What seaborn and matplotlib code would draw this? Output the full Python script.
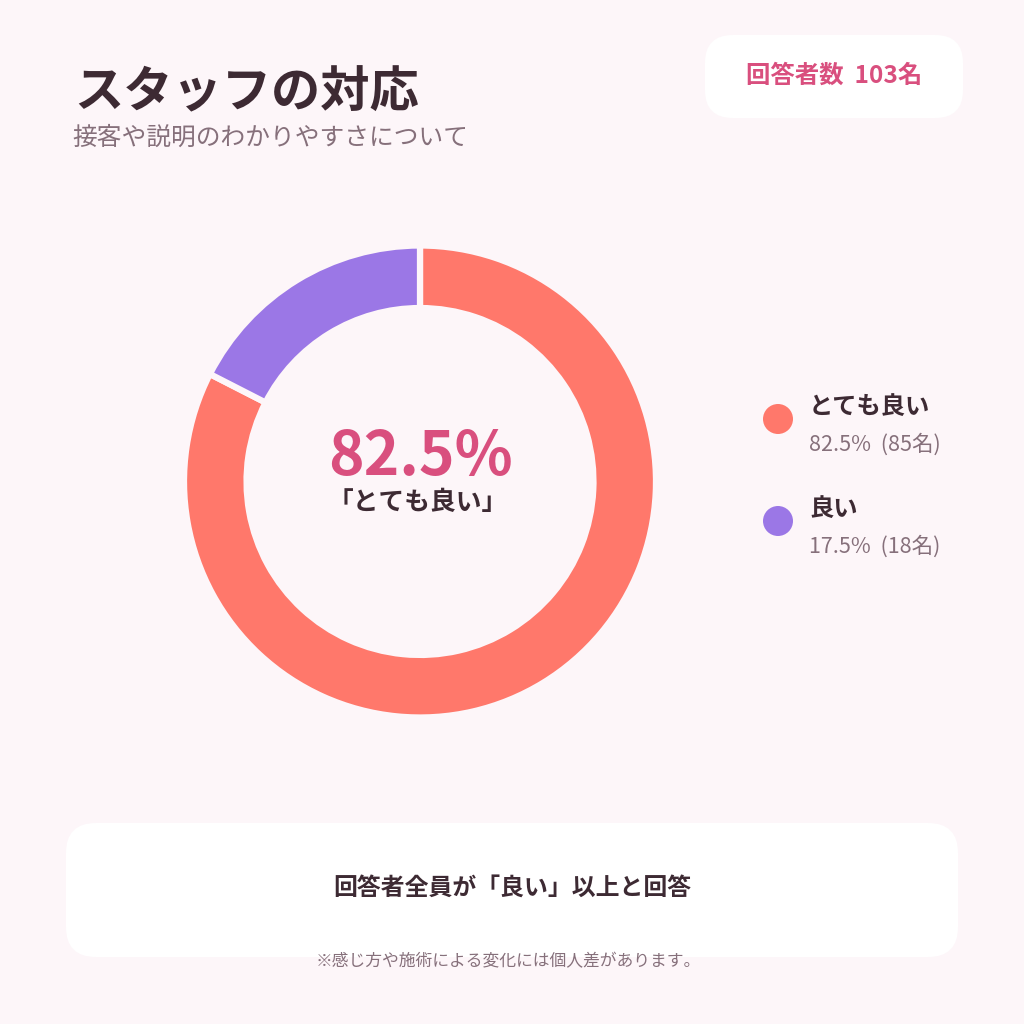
import matplotlib
matplotlib.use("Agg")
import matplotlib.pyplot as plt
from matplotlib.patches import FancyBboxPatch, Circle
import seaborn as sns

# ---- data ----
categories = ["とても良い", "良い"]
counts = [85, 18]
percents = [82.5, 17.5]
total = 103
title = "スタッフの対応"
subtitle = "接客や説明のわかりやすさについて"
summary = "回答者全員が「良い」以上と回答"
footnote = "※感じ方や施術による変化には個人差があります。"

# ---- style ----
BG = "#FDF6F9"
DARK = "#3D2A33"
GREY = "#86707B"
PINK = "#D94F7E"
colors = ["#FF786B", "#9B77E6"]

sns.set_theme(style="white")
plt.rcParams["font.family"] = ["Noto Sans CJK JP", "DejaVu Sans"]

W = 1024
fig = plt.figure(figsize=(10.24, 10.24), dpi=100, facecolor=BG)

def fx(px):
    return px / W

def fy(py):
    return 1 - py / W

def rbox(x0, y0, x1, y1, r):
    p = FancyBboxPatch((fx(x0), fy(y1)), fx(x1 - x0), fx(y1 - y0),
                       boxstyle=f"round,pad=0,rounding_size={r / W}",
                       transform=fig.transFigure, facecolor="white",
                       edgecolor="none", zorder=0)
    fig.add_artist(p)

# title block
fig.text(fx(74), fy(93), title, fontsize=35.5, fontweight="bold", color=DARK,
         ha="left", va="center")
fig.text(fx(72), fy(138), subtitle, fontsize=17.8, color=GREY,
         ha="left", va="center")

# badge
rbox(705, 35, 963, 118, 28)
fig.text(fx(834), fy(76), f"回答者数  {total}名", fontsize=17.6, fontweight="bold",
         color=PINK, ha="center", va="center")

# donut
cx, cy, R = 420, 481.5, 236
ax = fig.add_axes([fx(cx - R), fy(cy + R), fx(2 * R), fx(2 * R)])
ax.set_facecolor(BG)
ax.pie(counts, colors=colors, startangle=90, counterclock=False, radius=1.0,
       wedgeprops=dict(width=0.265, edgecolor=BG, linewidth=4.5))
ax.set_xlim(-1, 1)
ax.set_ylim(-1, 1)
ax.set_aspect("equal")
ax.axis("off")

fig.text(fx(420), fy(457), f"{percents[0]}%", fontsize=43.5, fontweight="bold",
         color=PINK, ha="center", va="center")
fig.text(fx(418), fy(502), f"「{categories[0]}」", fontsize=18.5, fontweight="bold",
         color=DARK, ha="center", va="center")

# legend
leg_y = [419, 521]
for i, cat in enumerate(categories):
    y = leg_y[i]
    fig.add_artist(Circle((fx(778), fy(y)), 15 / W, transform=fig.transFigure,
                          facecolor=colors[i], edgecolor="none"))
    fig.text(fx(809), fy(y - 12), cat, fontsize=17.5, fontweight="bold",
             color=DARK, ha="left", va="center")
    fig.text(fx(809), fy(y + 26), f"{percents[i]}%  ({counts[i]}名)",
             fontsize=15.5, color=GREY, ha="left", va="center")

# summary box
rbox(66, 823, 958, 957, 30)
fig.text(fx(512), fy(888), summary, fontsize=17.2, fontweight="bold",
         color=DARK, ha="center", va="center")
fig.text(fx(508), fy(962), footnote, fontsize=12.1, color=GREY,
         ha="center", va="center")

fig.savefig("out.png", dpi=100, facecolor=BG)
